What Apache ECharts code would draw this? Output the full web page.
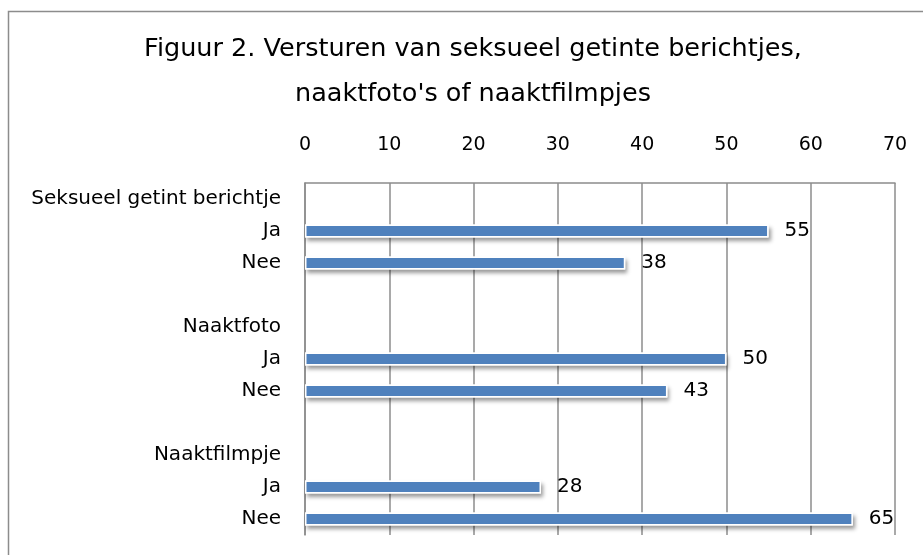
<!DOCTYPE html>
<html>
<head>
<meta charset="utf-8">
<script src="https://cdn.jsdelivr.net/npm/echarts@6/dist/echarts.min.js"></script>
<style>html,body{margin:0;padding:0;background:#fff;}#c{width:923px;height:555px;}</style>
</head>
<body>
<div id="c"></div>
<script>
var titleText = "Figuur 2. Versturen van seksueel getinte berichtjes,\nnaaktfoto's of naaktfilmpjes";
var categories = ["Seksueel getint berichtje", "Ja", "Nee", "", "Naaktfoto", "Ja", "Nee", "", "Naaktfilmpje", "Ja", "Nee"];
var values = [null, 55, 38, null, null, 50, 43, null, null, 28, 65];
var xTicks = [0, 10, 20, 30, 40, 50, 60, 70];

var FONT = "DejaVu Sans";
var chart = echarts.init(document.getElementById('c'));
var catKeys = categories.map(function (c, i) { return 'k' + i; });
chart.setOption({
  backgroundColor: '#fff',
  animation: false,
  title: {
    text: titleText,
    left: 468,
    textAlign: 'center',
    top: 22,
    textStyle: { fontFamily: FONT, fontSize: 25.5, fontWeight: 'normal', color: '#000', lineHeight: 45 }
  },
  graphic: [{
    type: 'rect', shape: { x: 8.5, y: 11.5, width: 1000, height: 1000 },
    style: { fill: 'none', stroke: '#8c8c8c', lineWidth: 1.5 }, silent: true, z: -1
  }],
  grid: { left: 305, right: 28, top: 183, bottom: 20, containLabel: false },
  xAxis: {
    type: 'value', position: 'top', min: xTicks[0], max: xTicks[xTicks.length - 1], interval: 10,
    axisLine: { show: true, lineStyle: { color: '#8c8c8c', width: 1.5 } },
    axisTick: { show: false },
    axisLabel: { margin: 28, fontFamily: FONT, fontSize: 19, color: '#000' },
    splitLine: { show: true, lineStyle: { color: '#8c8c8c', width: 1.5 } }
  },
  yAxis: {
    type: 'category', inverse: true, data: catKeys,
    axisLine: { show: true, lineStyle: { color: '#8c8c8c', width: 1.5 } },
    axisTick: { show: false },
    axisLabel: {
      margin: 24, fontFamily: FONT, fontSize: 20, color: '#000', interval: 0,
      formatter: function (v, i) { return categories[i]; }
    }
  },
  series: [{
    type: 'bar', data: values, barWidth: 13, barGap: '-100%', silent: true,
    itemStyle: {
      color: '#fff',
      shadowColor: 'rgba(0,0,0,0.4)', shadowBlur: 4, shadowOffsetX: 2, shadowOffsetY: 3
    },
    z: 2
  }, {
    type: 'bar', data: values, barWidth: 13, barGap: '-100%',
    itemStyle: { color: '#4F81BD', borderColor: '#fff', borderWidth: 1.5 },
    label: { show: true, position: 'right', distance: 16, fontFamily: FONT, fontSize: 20, color: '#000' },
    z: 3
  }]
});
</script>
</body>
</html>
